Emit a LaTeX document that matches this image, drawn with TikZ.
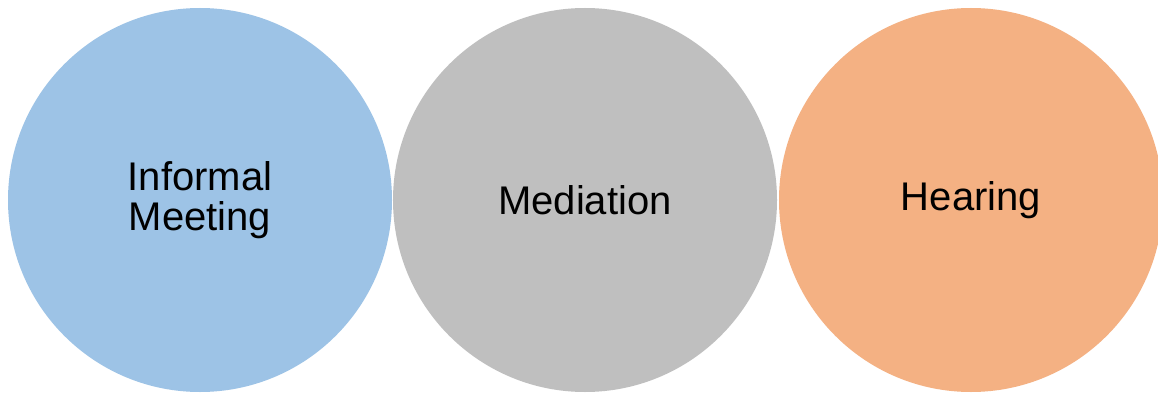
\documentclass[tikz,border=0pt]{standalone}
\usepackage{fontspec}
\setmainfont{Liberation Sans}
\definecolor{cblue}{HTML}{9DC3E6}
\definecolor{cgrey}{HTML}{BFBFBF}
\definecolor{corange}{HTML}{F4B183}
\begin{document}
\begin{tikzpicture}[x=1pt,y=-1pt,
  stage/.style={circle,minimum size=384pt,inner sep=0pt,draw=none,align=center,
    font=\fontsize{40}{40}\selectfont}]
\useasboundingbox (0,0) rectangle (1158,393);
\clip (0,0) rectangle (1158,393);
\fill[white] (0,0) rectangle (1158,393);
\node[stage,fill=cblue] (a) at (200,200) {Informal\\Meeting};
\node[stage,fill=cgrey] (b) at (585,200) {Mediation};
\node[stage,fill=corange] (c) at (971,200) {Hearing};
\end{tikzpicture}
\end{document}
